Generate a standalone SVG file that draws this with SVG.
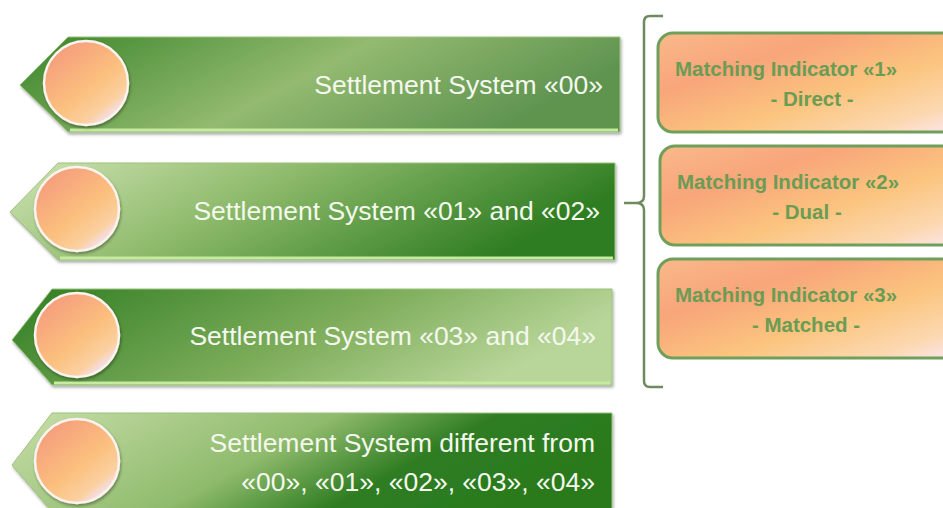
<svg xmlns="http://www.w3.org/2000/svg" width="943" height="508" viewBox="0 0 943 508">
<defs>
<linearGradient id="gDarkLight" x1="0" y1="0" x2="1" y2="0.3">
<stop offset="0" stop-color="#3a852a"/><stop offset="0.55" stop-color="#93ba70"/><stop offset="1" stop-color="#5f9450"/>
</linearGradient>
<linearGradient id="gLightDark" x1="0" y1="0" x2="1" y2="0.3">
<stop offset="0" stop-color="#cfe3b4"/><stop offset="0.45" stop-color="#8fbb6c"/><stop offset="1" stop-color="#2f7d22"/>
</linearGradient>
<linearGradient id="gDarkLight2" x1="0" y1="0" x2="1" y2="0.3">
<stop offset="0" stop-color="#2f7d22"/><stop offset="0.6" stop-color="#7fae5c"/><stop offset="1" stop-color="#b9d69a"/>
</linearGradient>
<linearGradient id="gLightDark2" x1="0" y1="0" x2="1" y2="0.3">
<stop offset="0" stop-color="#c8deaa"/><stop offset="0.5" stop-color="#8fbb6c"/><stop offset="0.75" stop-color="#2f7d22"/><stop offset="1" stop-color="#2a7a1e"/>
</linearGradient>
<linearGradient id="gOrb" x1="0.2" y1="0.15" x2="0.8" y2="0.9">
<stop offset="0" stop-color="#f6a17d"/><stop offset="0.55" stop-color="#fbc07e"/><stop offset="0.85" stop-color="#fbd0a0"/><stop offset="1" stop-color="#f4e0ef"/>
</linearGradient>
<linearGradient id="gBox" x1="0" y1="0" x2="1" y2="1">
<stop offset="0" stop-color="#f9b98a"/><stop offset="0.3" stop-color="#f8a57a"/><stop offset="0.6" stop-color="#fbc47e"/><stop offset="0.85" stop-color="#fcd8b0"/><stop offset="1" stop-color="#fbe6ef"/>
</linearGradient>
<filter id="sh" x="-10%" y="-10%" width="120%" height="130%">
<feDropShadow dx="1" dy="2" stdDeviation="1.5" flood-color="#000" flood-opacity="0.35"/>
</filter>
</defs>
<style>
.bn{stroke:#9cc27c;stroke-width:1;filter:url(#sh)}
.bev{stroke:#c6eaa0;stroke-width:3;fill:none}
.orb{fill:url(#gOrb);stroke:#fbf3ee;stroke-width:2.5;filter:url(#sh)}
.t{font-family:"Liberation Sans",Arial,sans-serif;font-size:26.5px;fill:#f4f8ee;text-anchor:end}
.box{fill:url(#gBox);stroke:#6f9f5a;stroke-width:3}
.m{font-family:"Liberation Sans",Arial,sans-serif;font-size:20.5px;font-weight:bold;fill:#6b9c54}
.mc{font-family:"Liberation Sans",Arial,sans-serif;font-size:20.5px;font-weight:bold;fill:#6b9c54;text-anchor:middle}
.br{fill:none;stroke:#6f8a5e;stroke-width:2.5}
</style>

<g id="banner1">
<path class="bn" d="M68,37 L620,37 L620,132 L68,132 L20,85 Z" fill="url(#gDarkLight)"/>
<line class="bev" x1="70" y1="130" x2="618" y2="130"/>
<circle class="orb" cx="86" cy="83" r="42"/>
<text class="t" x="603" y="94">Settlement System «00»</text>
</g>

<g id="banner2">
<path class="bn" d="M58,163 L615,163 L615,260 L58,260 L10,212 Z" fill="url(#gLightDark)"/>
<line class="bev" x1="60" y1="258" x2="613" y2="258"/>
<circle class="orb" cx="77" cy="209" r="42"/>
<text class="t" x="600" y="220">Settlement System «01» and «02»</text>
</g>

<g id="banner3">
<path class="bn" d="M52,289 L612,289 L612,385 L52,385 L12,340 Z" fill="url(#gDarkLight2)"/>
<line class="bev" x1="54" y1="383" x2="610" y2="383"/>
<circle class="orb" cx="77" cy="335" r="42"/>
<text class="t" x="596" y="345">Settlement System «03» and «04»</text>
</g>

<g id="banner4">
<path class="bn" d="M52,413 L612,413 L612,512 L52,512 L12,465 Z" fill="url(#gLightDark2)"/>
<circle class="orb" cx="77" cy="461" r="42"/>
<text class="t" x="595" y="452">Settlement System different from</text>
<text class="t" x="595" y="491">«00», «01», «02», «03», «04»</text>
</g>

<g id="connectors">
<path class="br" d="M663,16 L650,16 Q644,16 644,22 L644,196 Q644,203 636,203 L624,203 M636,203 Q644,203 644,210 L644,381 Q644,387 650,387 L663,387"/>
</g>

<g id="mi1">
<rect class="box" x="658" y="33" width="300" height="99" rx="15"/>
<text class="m" x="675" y="76">Matching Indicator «1»</text>
<text class="mc" x="812" y="106">- Direct -</text>
</g>
<g id="mi2">
<rect class="box" x="660" y="146" width="300" height="99" rx="15"/>
<text class="m" x="677" y="189">Matching Indicator «2»</text>
<text class="mc" x="807" y="219">- Dual -</text>
</g>
<g id="mi3">
<rect class="box" x="658" y="259" width="300" height="99" rx="15"/>
<text class="m" x="675" y="302">Matching Indicator «3»</text>
<text class="mc" x="806" y="332">- Matched -</text>
</g>
</svg>
